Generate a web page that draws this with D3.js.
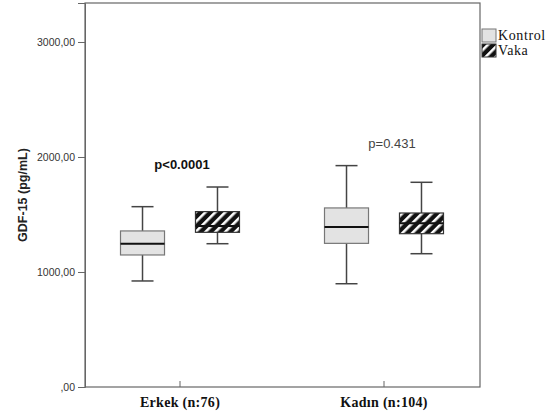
<!DOCTYPE html>
<html>
<head>
<meta charset="utf-8">
<script src="https://cdn.jsdelivr.net/npm/d3@7"></script>
<style>
body{margin:0;background:#fff;}
</style>
</head>
<body>
<svg id="chart" width="549" height="418"></svg>
<script>
// gruplar ve seriler
let groups=["Erkek (n:76)","Kadın (n:104)"]
let series=["Kontrol","Vaka"]
// [alt bıyık, Q1, medyan, Q3, üst bıyık]
let kontrol=[[922,1148,1246,1357,1568],[898,1249,1391,1557,1925]]
let vaka=[[1246,1345,1400,1525,1739],[1159,1333,1423,1513,1780]]
let pvals=["p<0.0001","p=0.431"]
let yTicks=[0,1000,2000,3000]

var svg=d3.select("#chart")
var mLeft=85,mRight=480,mTop=3,mBottom=387

var y=d3.scaleLinear().domain([0,3339]).range([mBottom,mTop])
var x=d3.scaleBand().domain(groups).range([78,486]).padding(0)
var xs=d3.scaleBand().domain(series).range([0,x.bandwidth()]).paddingInner(0.413).paddingOuter(0.567)

// tarama deseni
var defs=svg.append("defs")
var pat=defs.append("pattern").attr("id","hatch").attr("patternUnits","userSpaceOnUse")
  .attr("width",7).attr("height",7).attr("patternTransform","rotate(45)")
pat.append("rect").attr("width",7).attr("height",7).attr("fill","#111")
pat.append("rect").attr("x",0).attr("width",2.6).attr("height",7).attr("fill","#fff")

// çerçeve
svg.append("rect").attr("x",mLeft).attr("y",mTop).attr("width",mRight-mLeft).attr("height",mBottom-mTop)
  .attr("fill","none").attr("stroke","#666").attr("stroke-width",1.2)

// y ekseni
var yAxis=d3.axisLeft(y).tickValues(yTicks).tickSize(7).tickFormat(d=>d==0?",00":d+",00")
var ga=svg.append("g").attr("transform",`translate(${mLeft},0)`).call(yAxis)
ga.select(".domain").attr("stroke","#666")
ga.selectAll(".tick line").attr("stroke","#666")
ga.selectAll("text").style("font-family","Arial, 'Liberation Sans', sans-serif").style("font-size","10.5px").attr("fill","#333")

// x ekseni
var xAxis=d3.axisBottom(x).tickSize(6).tickPadding(8)
var gx=svg.append("g").attr("transform",`translate(0,${mBottom})`).call(xAxis)
gx.select(".domain").remove()
gx.selectAll(".tick line").attr("stroke","#666").attr("transform","translate(0,-6)")
gx.selectAll("text").style("font-family","'Liberation Serif', 'Times New Roman', serif").style("font-size","14px")
  .style("font-weight","bold").style("letter-spacing","0.3px").attr("fill","#111").attr("dy","0.45em")

svg.append("text").text("GDF-15 (pg/mL)").attr("transform","translate(27,195) rotate(-90)")
  .attr("text-anchor","middle").style("font-family","Arial, 'Liberation Sans', sans-serif")
  .style("font-size","12.5px").style("font-weight","bold").attr("fill","#222")

function drawBox(g,cx,d,fill,stroke){
  var w=xs.bandwidth()
  var cap=w*0.5
  g.append("line").attr("x1",cx).attr("x2",cx).attr("y1",y(d[0])).attr("y2",y(d[4])).attr("stroke","#444").attr("stroke-width",1.5)
  g.append("line").attr("x1",cx-cap/2).attr("x2",cx+cap/2).attr("y1",y(d[4])).attr("y2",y(d[4])).attr("stroke","#444").attr("stroke-width",1.5)
  g.append("line").attr("x1",cx-cap/2).attr("x2",cx+cap/2).attr("y1",y(d[0])).attr("y2",y(d[0])).attr("stroke","#444").attr("stroke-width",1.5)
  g.append("rect").attr("x",cx-w/2).attr("y",y(d[3])).attr("width",w).attr("height",y(d[1])-y(d[3]))
    .attr("fill",fill).attr("stroke",stroke).attr("stroke-width",1.2)
  g.append("line").attr("x1",cx-w/2).attr("x2",cx+w/2).attr("y1",y(d[2])).attr("y2",y(d[2])).attr("stroke","#111").attr("stroke-width",2)
}

groups.forEach(function(gname,i){
  var g=svg.append("g")
  var x0=x(gname)
  drawBox(g,x0+xs("Kontrol")+xs.bandwidth()/2,kontrol[i],"#e3e3e3","#777")
  drawBox(g,x0+xs("Vaka")+xs.bandwidth()/2,vaka[i],"url(#hatch)","#333")
})

svg.append("text").text(pvals[0]).attr("x",x(groups[0])+x.bandwidth()/2+2).attr("y",169).attr("text-anchor","middle")
  .style("font-family","Arial, 'Liberation Sans', sans-serif").style("font-size","13px").style("font-weight","bold").attr("fill","#111")
svg.append("text").text(pvals[1]).attr("x",x(groups[1])+x.bandwidth()/2+8).attr("y",148).attr("text-anchor","middle")
  .style("font-family","Arial, 'Liberation Sans', sans-serif").style("font-size","13px").attr("fill","#444")

// lejant
var leg=svg.append("g").attr("transform","translate(482,29)")
series.forEach(function(s,i){
  leg.append("rect").attr("x",0).attr("y",i*15).attr("width",14).attr("height",13)
    .attr("fill",i==0?"#e3e3e3":"url(#hatch)").attr("stroke",i==0?"#777":"#333")
  leg.append("text").text(s).attr("x",16).attr("y",i*15+11)
    .style("font-family","'Liberation Serif', 'Times New Roman', serif").style("font-size","14px")
    .style("letter-spacing","0.6px").attr("fill","#111")
})
</script>
</body>
</html>
